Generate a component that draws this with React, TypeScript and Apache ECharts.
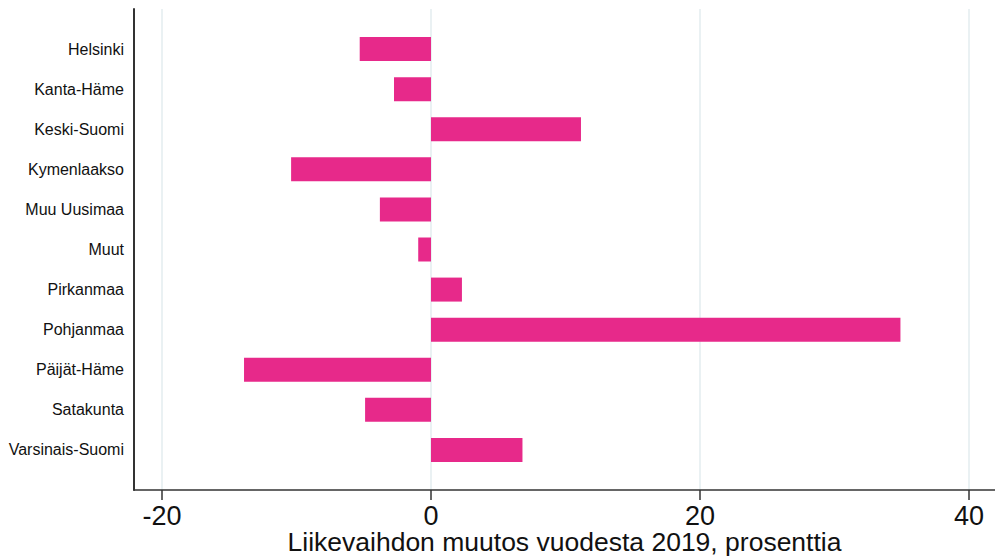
import React, { useEffect, useRef } from "react";
import * as echarts from "echarts";

const categories = [
  "Helsinki",
  "Kanta-Häme",
  "Keski-Suomi",
  "Kymenlaakso",
  "Muu Uusimaa",
  "Muut",
  "Pirkanmaa",
  "Pohjanmaa",
  "Päijät-Häme",
  "Satakunta",
  "Varsinais-Suomi",
];
const changes = [-5.3, -2.75, 11.15, -10.4, -3.8, -0.95, 2.3, 34.9, -13.9, -4.9, 6.8];
const xTicks = [-20, 0, 20, 40];
const xTitle = "Liikevaihdon muutos vuodesta 2019, prosenttia";

const FONT = 'Arial, "Liberation Sans", Helvetica, sans-serif';

export default function App() {
  const ref = useRef<HTMLDivElement>(null);
  useEffect(() => {
    if (!ref.current) return;
    const chart = echarts.init(ref.current, undefined, { renderer: "svg" });
    const yData = ["", ...categories, ""];
    const barData = [null, ...changes, null];
    chart.setOption({
      animation: false,
      backgroundColor: "#ffffff",
      grid: {
        left: 134,
        right: 0,
        top: 9,
        bottom: 70,
        containLabel: false,
        outerBoundsMode: "none",
      },
      xAxis: {
        type: "value",
        min: -22.08,
        max: 41.93,
        axisLine: { show: true, onZero: false, lineStyle: { color: "#333", width: 1.5 } },
        axisTick: { show: true, length: 10, customValues: xTicks, lineStyle: { color: "#333", width: 1.5 } },
        axisLabel: {
          customValues: xTicks,
          fontSize: 27,
          lineHeight: 24,
          color: "#111",
          fontFamily: FONT,
          margin: 14,
        },
        splitLine: { show: true, lineStyle: { color: "#e3ecef", width: 1.5 } },
        name: xTitle,
        nameLocation: "middle",
        nameGap: 39,
        nameMoveOverlap: false,
        nameTextStyle: { fontSize: 26.5, lineHeight: 26, color: "#111", fontFamily: FONT },
      },
      yAxis: {
        type: "category",
        inverse: true,
        boundaryGap: false,
        data: yData,
        axisLine: { show: true, onZero: false, lineStyle: { color: "#333", width: 2 } },
        axisTick: { show: false },
        splitLine: { show: false },
        axisLabel: { interval: 0, fontSize: 16, color: "#111", fontFamily: FONT, margin: 10 },
      },
      series: [
        {
          type: "bar",
          data: barData,
          barWidth: 24,
          itemStyle: { color: "#e7298a" },
        },
      ],
    });
    return () => chart.dispose();
  }, []);
  return (
    <div
      ref={ref}
      style={{ position: "absolute", left: 0, top: 0, width: 995, height: 560 }}
    />
  );
}
